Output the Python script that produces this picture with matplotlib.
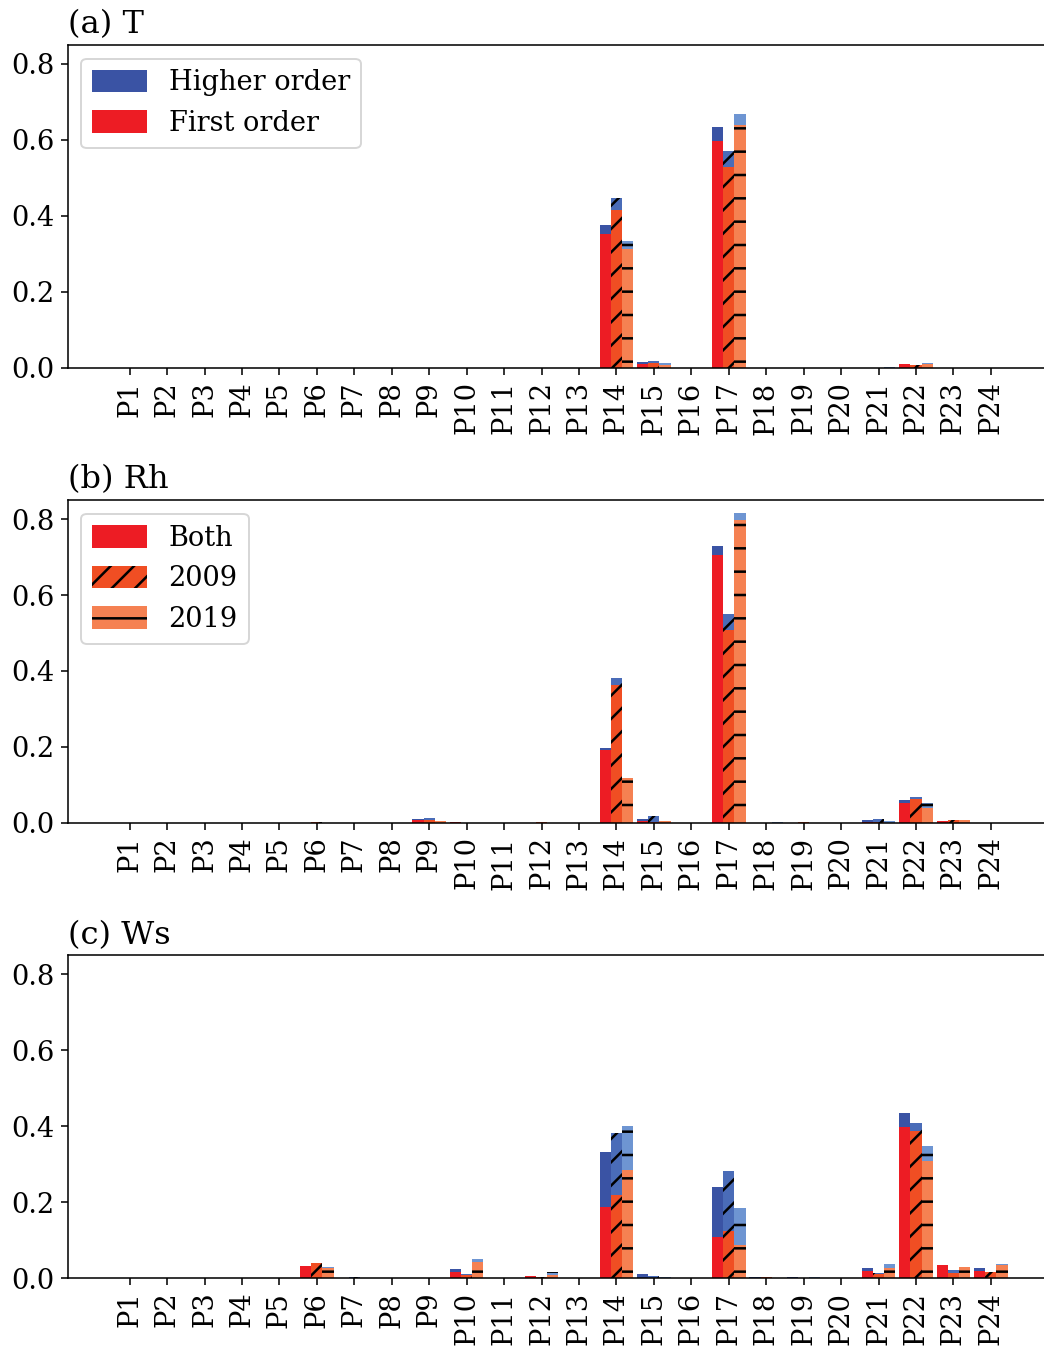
import matplotlib
matplotlib.use('Agg')
import matplotlib.pyplot as plt
from matplotlib.patches import Patch
import numpy as np

labels = ['P%d' % i for i in range(1, 25)]

# (a) T                 P1 ... P12                            P13  P14    P15    P16  P17    P18  P19  P20  P21    P22    P23  P24
a_first_both = [0, 0, 0, 0, 0, 0, 0, 0, 0, 0, 0, 0, 0, 0.352, 0.010, 0, 0.598, 0, 0, 0, 0, 0.009, 0, 0]
a_high_both = [0, 0, 0, 0, 0, 0, 0, 0, 0, 0, 0, 0, 0, 0.024, 0.005, 0, 0.035, 0, 0, 0, 0, 0.001, 0, 0]
a_first_2009 = [0, 0, 0, 0, 0, 0, 0, 0, 0, 0, 0, 0, 0, 0.415, 0.012, 0, 0.529, 0, 0, 0, 0, 0.006, 0, 0]
a_high_2009 = [0, 0, 0, 0, 0, 0, 0, 0, 0, 0, 0, 0, 0, 0.031, 0.006, 0, 0.041, 0, 0, 0, 0, 0.001, 0, 0]
a_first_2019 = [0, 0, 0, 0, 0, 0, 0, 0, 0, 0, 0, 0, 0, 0.313, 0.007, 0, 0.640, 0, 0, 0, 0, 0.009, 0, 0]
a_high_2019 = [0, 0, 0, 0, 0, 0, 0, 0, 0, 0, 0, 0, 0, 0.021, 0.005, 0, 0.028, 0, 0, 0, 0.002, 0.004, 0, 0]

# (b) Rh
b_first_both = [0, 0, 0, 0, 0, 0, 0, 0, 0.008, 0.003, 0, 0, 0, 0.193, 0.005, 0, 0.705, 0, 0, 0, 0.002, 0.053, 0.006, 0]
b_high_both = [0, 0, 0, 0, 0, 0, 0, 0, 0.002, 0, 0, 0, 0, 0.004, 0.005, 0, 0.023, 0, 0, 0, 0.005, 0.007, 0, 0]
b_first_2009 = [0, 0, 0, 0, 0, 0.003, 0, 0, 0.008, 0, 0, 0.002, 0, 0.362, 0.003, 0, 0.508, 0, 0.002, 0, 0.002, 0.063, 0.008, 0]
b_high_2009 = [0, 0, 0, 0, 0, 0, 0, 0, 0.005, 0, 0, 0, 0, 0.020, 0.015, 0, 0.042, 0, 0, 0, 0.008, 0.005, 0, 0]
b_first_2019 = [0, 0, 0, 0, 0, 0, 0, 0, 0.006, 0, 0, 0, 0, 0.118, 0.006, 0, 0.797, 0, 0, 0, 0.001, 0.040, 0.008, 0]
b_high_2019 = [0, 0, 0, 0, 0, 0, 0, 0, 0, 0, 0, 0, 0, 0, 0, 0, 0.018, 0.002, 0, 0, 0.004, 0.012, 0, 0]

# (c) Ws
c_first_both = [0, 0, 0, 0, 0, 0.032, 0, 0, 0, 0.017, 0, 0.006, 0, 0.186, 0.001, 0, 0.108, 0, 0, 0, 0.018, 0.398, 0.034, 0.019]
c_high_both = [0, 0, 0, 0, 0, 0, 0, 0, 0, 0.006, 0, 0, 0, 0.145, 0.009, 0, 0.131, 0.002, 0.002, 0, 0.008, 0.037, 0, 0.008]
c_first_2009 = [0, 0, 0, 0, 0, 0.039, 0.001, 0, 0, 0.008, 0, 0.003, 0, 0.218, 0, 0, 0.124, 0.002, 0, 0, 0.010, 0.386, 0.014, 0.015]
c_high_2009 = [0, 0, 0, 0, 0, 0, 0.001, 0, 0, 0.002, 0, 0, 0, 0.164, 0.006, 0, 0.158, 0, 0, 0, 0.002, 0.022, 0.007, 0]
c_first_2019 = [0, 0, 0, 0, 0, 0.026, 0, 0, 0, 0.042, 0, 0.008, 0, 0.285, 0, 0, 0.087, 0, 0, 0, 0.027, 0.308, 0.028, 0.034]
c_high_2019 = [0, 0, 0, 0, 0, 0.004, 0, 0, 0, 0.008, 0, 0.008, 0, 0.115, 0.004, 0, 0.097, 0, 0.004, 0, 0.011, 0.039, 0.002, 0.003]

panels = [
    ('(a) T', [(a_first_both, a_high_both), (a_first_2009, a_high_2009), (a_first_2019, a_high_2019)]),
    ('(b) Rh', [(b_first_both, b_high_both), (b_first_2009, b_high_2009), (b_first_2019, b_high_2019)]),
    ('(c) Ws', [(c_first_both, c_high_both), (c_first_2009, c_high_2009), (c_first_2019, c_high_2019)]),
]

first_colors = ['#ed1c24', '#f04e23', '#f58152']
high_colors = ['#3a53a4', '#4a6cb8', '#6e95d2']
hatches = ['', '//', '-']
offsets = [-0.3, 0.0, 0.3]
width = 0.3

plt.rcParams['font.family'] = 'DejaVu Serif'
plt.rcParams['hatch.linewidth'] = 1.3

fig, axes = plt.subplots(3, 1, figsize=(1044 / 140, 1346 / 140), dpi=140)
fig.subplots_adjust(left=0.065, right=1.0, top=0.9666, bottom=0.0505, hspace=0.41)

x = np.arange(len(labels))
for ax, (title, series) in zip(axes, panels):
    for k, (first, high) in enumerate(series):
        ax.bar(x + offsets[k], first, width, color=first_colors[k], hatch=hatches[k],
               edgecolor='black', linewidth=0)
        ax.bar(x + offsets[k], high, width, bottom=first, color=high_colors[k], hatch=hatches[k],
               edgecolor='black', linewidth=0)
    ax.set_xticks(x)
    ax.set_xticklabels(labels, rotation=90, fontsize=14)
    ax.set_ylim(0, 0.85)
    ax.set_xlim(-1.65, 24.42)
    ax.set_yticks([0, 0.2, 0.4, 0.6, 0.8])
    ax.tick_params(axis='y', labelsize=14)
    ax.spines['right'].set_visible(False)
    ax.set_title(title, loc='left', fontsize=16.5, pad=6)

h1 = [Patch(facecolor=high_colors[0], label='Higher order'),
      Patch(facecolor=first_colors[0], label='First order')]
axes[0].legend(handles=h1, loc='upper left', fontsize=14, handleheight=0.9)

h2 = [Patch(facecolor=first_colors[0], edgecolor='black', linewidth=0, label='Both'),
      Patch(facecolor=first_colors[1], edgecolor='black', linewidth=0, hatch='//', label='2009'),
      Patch(facecolor=first_colors[2], edgecolor='black', linewidth=0, hatch='-', label='2019')]
axes[1].legend(handles=h2, loc='upper left', fontsize=14, handleheight=0.9)

plt.savefig('out.png', dpi=140)
